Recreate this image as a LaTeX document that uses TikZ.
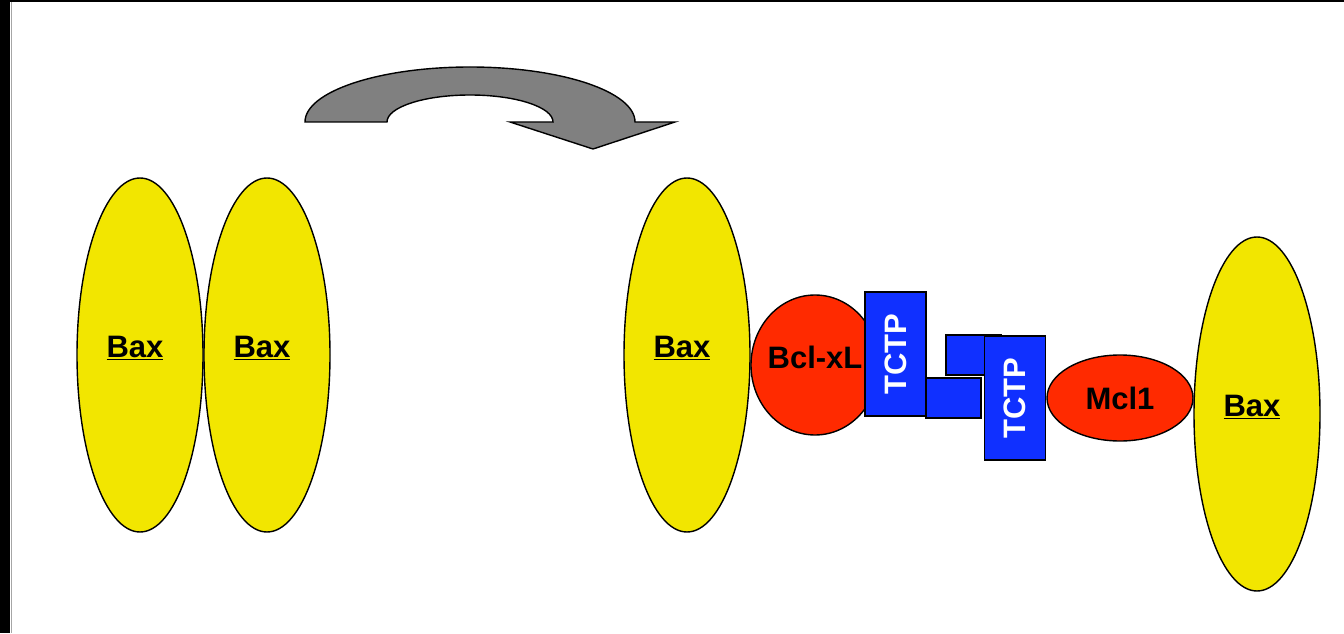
\documentclass[tikz,border=0pt]{standalone}
\usepackage{fontspec}
\setmainfont{Liberation Sans}
\usepackage{tikz}
\usetikzlibrary{shapes.geometric, positioning}
\definecolor{baxyellow}{RGB}{242,230,0}
\definecolor{bclred}{RGB}{255,42,0}
\definecolor{tctpblue}{RGB}{16,48,255}
\definecolor{arrowgrey}{RGB}{128,128,128}

\begin{document}
\begin{tikzpicture}[x=1pt, y=1pt, line width=1.4pt,
    font=\fontsize{31}{36}\selectfont\bfseries,
    bax/.style={ellipse, draw, fill=baxyellow, inner sep=0pt,
      minimum width=126pt, minimum height=354pt},
    baxlabel/.style={xshift=-5pt, yshift=7pt},
    partner/.style={ellipse, draw, fill=bclred, inner sep=0pt},
    tctp/.style={rectangle, draw, fill=tctpblue, text=white, inner sep=0pt,
      minimum width=61pt, minimum height=124pt},
    block/.style={rectangle, draw, fill=tctpblue, inner sep=0pt,
      minimum width=55pt, minimum height=40pt}]
      \useasboundingbox (0,0) rectangle (1344,633);
      % Frame
      \fill (0,0) rectangle (10,633);
      \fill (0,631) rectangle (1344,633);
      \draw[black!35, line width=1pt] (11,0) -- (11,631);
      % Curved arrow
      \filldraw[fill=arrowgrey] (305,511)
        arc[start angle=180, end angle=0, x radius=165, y radius=55]
        -- (675,511) -- (593,484) -- (510,511) -- (553,511)
        arc[start angle=0, end angle=180, x radius=83, y radius=27] -- cycle;
      % Bax dimer
      \node[bax] (baxA) at (140,278) {};
      \node[bax] (baxB) at (267,278) {};
      \node[baxlabel] at (baxA) {\underline{Bax}};
      \node[baxlabel] at (baxB) {\underline{Bax}};
      % Complex
      \node[bax] (baxC) at (687,278) {};
      \node[baxlabel] at (baxC) {\underline{Bax}};
      \node[partner, minimum width=128pt, minimum height=140pt] (bclxl) at (815,268) {};
      \node[yshift=8pt] at (bclxl) {Bcl-xL};
      \node[block] (blockA) at (953.5,235) {};
      \node[tctp] (tctpA) at (895.5,279) {\rotatebox{90}{TCTP}};
      \node[block] (blockB) at (973.5,278) {};
      \node[tctp] (tctpB) at (1015,235) {\rotatebox{90}{TCTP}};
      \node[partner, minimum width=146pt, minimum height=86pt] (mcl) at (1120,235) {Mcl1};
      \node[bax] (baxD) at (1257,219) {};
      \node[baxlabel] at (baxD) {\underline{Bax}};
    \end{tikzpicture}
\end{document}
